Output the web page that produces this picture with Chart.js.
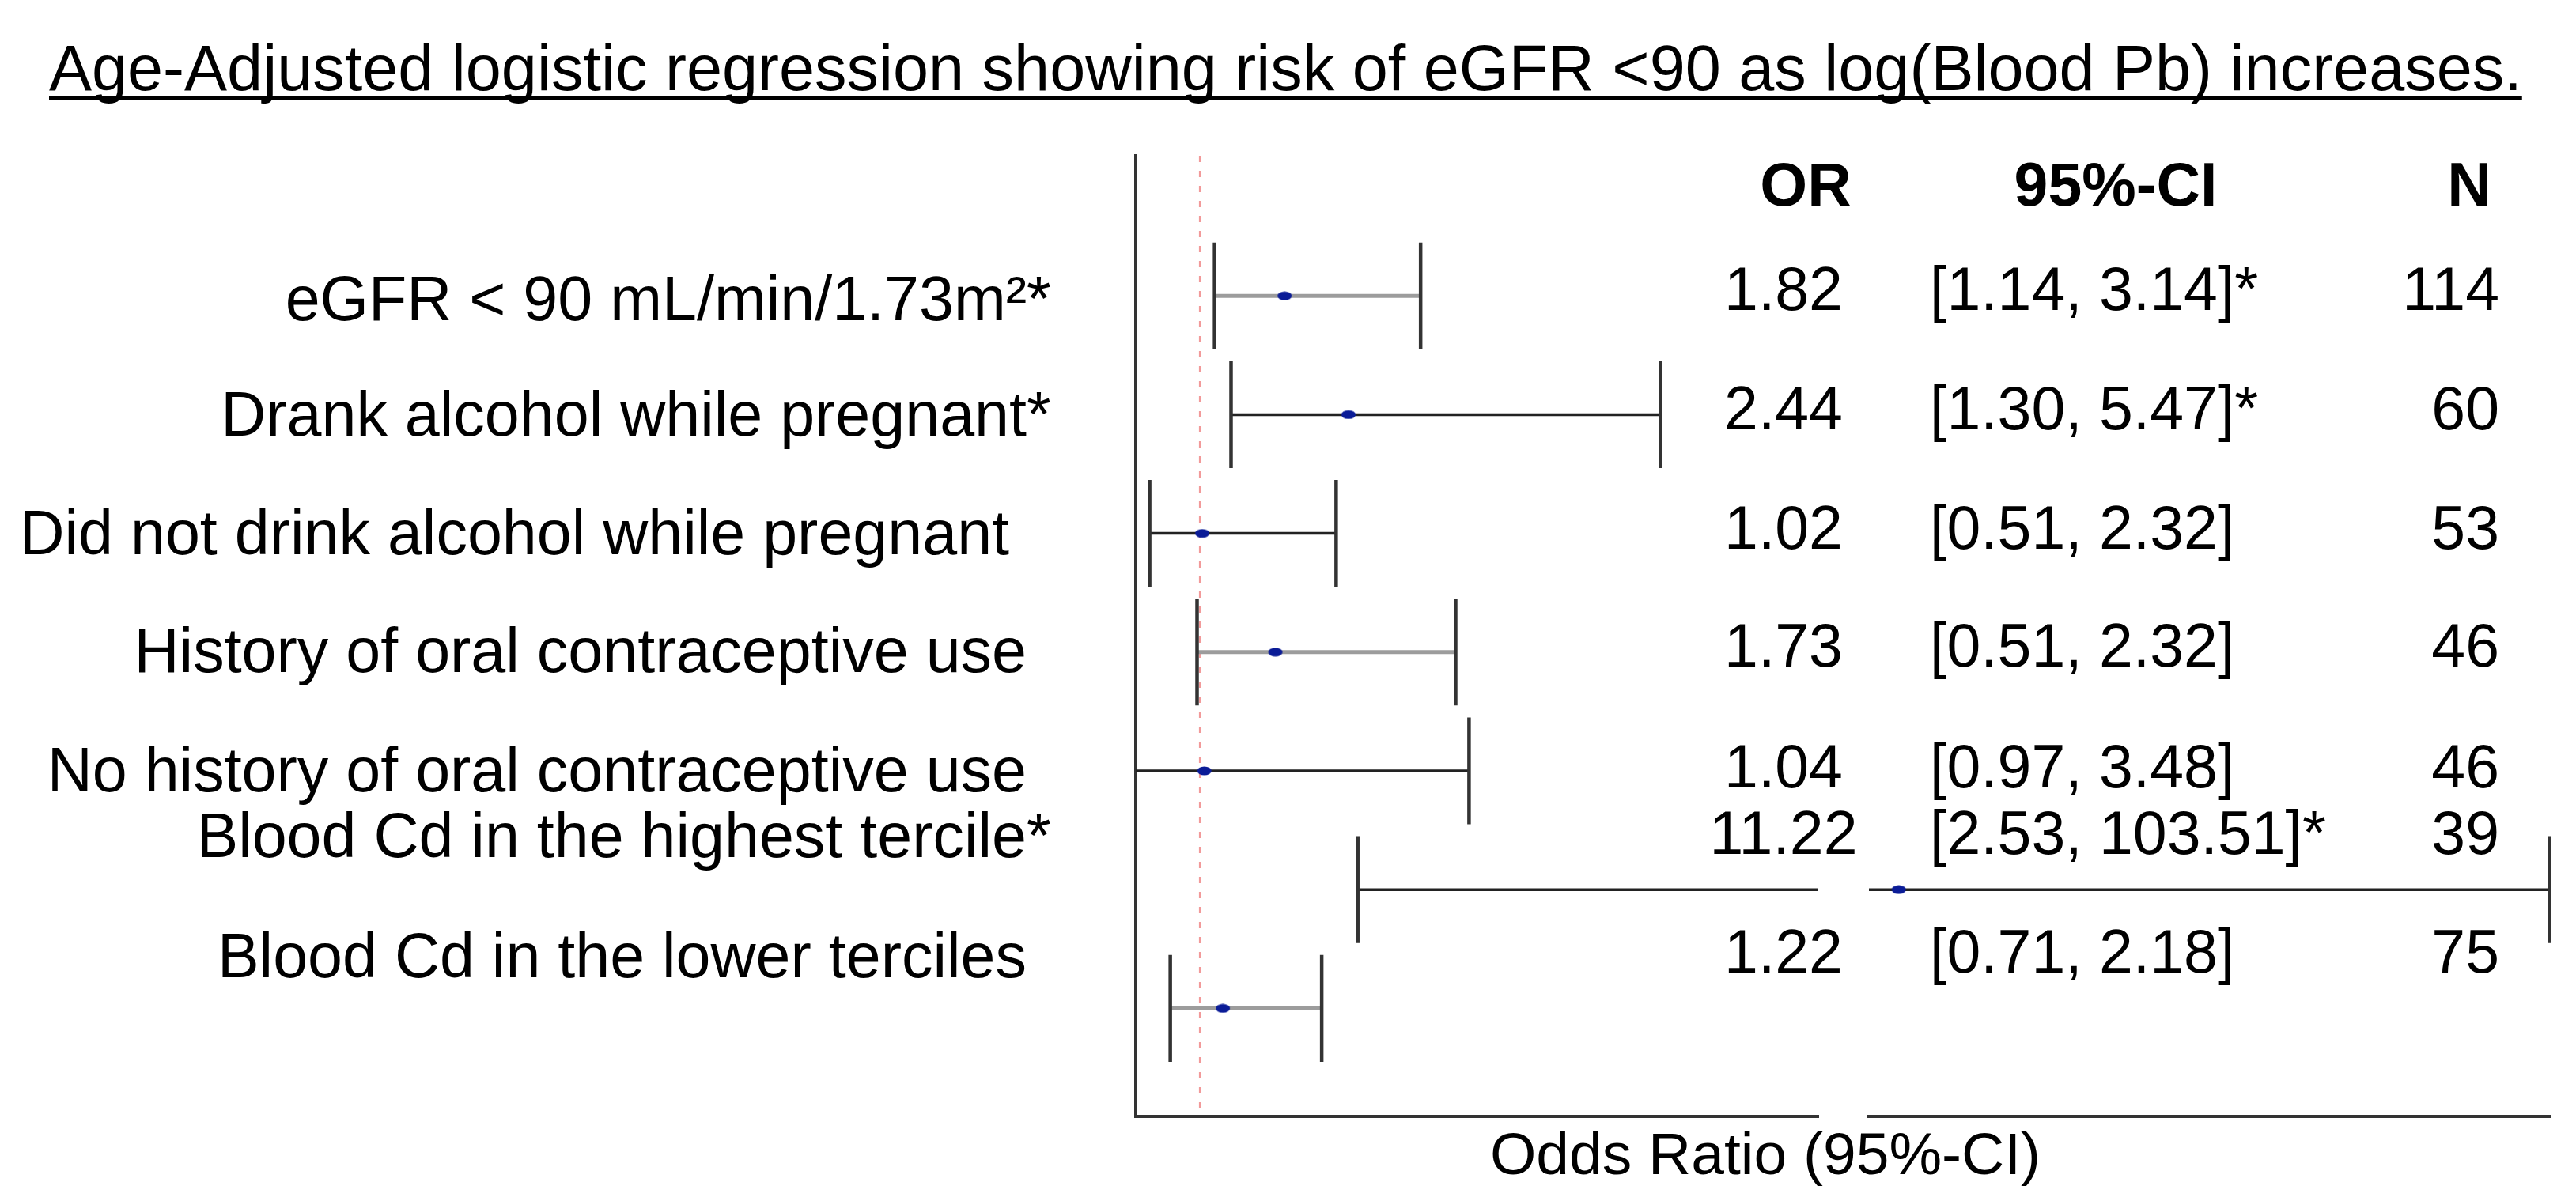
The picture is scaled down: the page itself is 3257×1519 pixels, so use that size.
<!DOCTYPE html>
<html>
<head>
<meta charset="utf-8">
<script src="https://cdn.jsdelivr.net/npm/chart.js@4.4.1/dist/chart.umd.min.js"></script>
<style>
  html, body { margin: 0; padding: 0; background: #fff; }
  canvas { display: block; }
</style>
</head>
<body>
<canvas id="forest" width="3257" height="1519"></canvas>
<script>
// rows, top to bottom
const rowLabels = [
  "eGFR < 90 mL/min/1.73m²*",
  "Drank alcohol while pregnant*",
  "Did not drink alcohol while pregnant ",
  "History of oral contraceptive use",
  "No history of oral contraceptive use",
  "Blood Cd in the highest tercile*",
  "Blood Cd in the lower terciles"
];
// printed table columns (as they stand in the figure)
const orText = ["1.82", "2.44", "1.02", "1.73", "1.04", "11.22", "1.22"];
const ciText = ["[1.14, 3.14]*", "[1.30, 5.47]*", "[0.51, 2.32]", "[0.51, 2.32]", "[0.97, 3.48]", "[2.53, 103.51]*", "[0.71, 2.18]"];
const nText = ["114", "60", "53", "46", "46", "39", "75"];
const headers = ["OR", "95%-CI", "N"];
// plotted marks
const orValues = [1.82, 2.44, 1.02, 1.73, 1.04, 11.22, 1.22];
const ciLow = [1.14, 1.30, 0.51, 0.97, 0.30, 2.53, 0.71];
const ciHigh = [3.14, 5.47, 2.32, 3.48, 3.61, 103.51, 2.18];
const refOR = 1;

const chartTitle = "Age-Adjusted logistic regression showing risk of eGFR <90 as log(Blood Pb) increases.";
const xTitle = "Odds Ratio (95%-CI)";

// layout / style
const BREAK = 7;            // x axis is broken here
const Y_MIN = -0.18, Y_MAX = 7.91;
const CAP = 0.45;
const greyRow = [true, false, false, true, false, false, true];
const labelRows = [1.06, 2.03, 3.03, 4.02, 5.03, 5.58, 6.59];
const valueRows = [0.98, 1.98, 2.99, 3.98, 5.0, 5.56, 6.56];
const headerRow = 0.1;
const FONT = '"Liberation Sans", Arial, sans-serif';

Chart.defaults.font.family = FONT;

// small ellipse used as the point marker
const dot = document.createElement("canvas");
dot.width = 20; dot.height = 12;
const dctx = dot.getContext("2d");
dctx.fillStyle = "#0b1c97";
dctx.beginPath();
dctx.ellipse(10, 6, 9, 5.5, 0, 0, Math.PI * 2);
dctx.fill();

function axisFor(v) {
  return v <= BREAK ? "x1" : "x2";
}

function lineSet(points, axis, color, width, order) {
  return {
    data: points, xAxisID: axis, yAxisID: "y",
    showLine: true, borderColor: color, borderWidth: width,
    pointRadius: 0, pointHoverRadius: 0, order: order
  };
}

const datasets = [];
// dashed line at OR = 1
datasets.push(Object.assign(
  lineSet([{x: refOR, y: Y_MIN}, {x: refOR, y: Y_MAX}], "x1", "#f29a9a", 3, 4),
  {borderDash: [8, 11]}
));

orValues.forEach((or, i) => {
  const y = i + 1;
  const lo = ciLow[i], hi = ciHigh[i];
  const wColor = greyRow[i] ? "#9c9c9c" : "#222";
  const wWidth = greyRow[i] ? 5 : 3.5;
  // whisker, split in two when it crosses the break
  if (hi > BREAK && lo < BREAK) {
    datasets.push(lineSet([{x: lo, y: y}, {x: BREAK, y: y}], "x1", wColor, wWidth, 2));
    datasets.push(lineSet([{x: BREAK, y: y}, {x: hi, y: y}], "x2", wColor, wWidth, 2));
  } else {
    datasets.push(lineSet([{x: lo, y: y}, {x: hi, y: y}], axisFor(hi), wColor, wWidth, 2));
  }
  // caps
  datasets.push(lineSet([{x: lo, y: y - CAP}, {x: lo, y: y + CAP}], axisFor(lo), "#333", 4.5, 1));
  datasets.push(lineSet([{x: hi, y: y - CAP}, {x: hi, y: y + CAP}], axisFor(hi), "#333", 4.5, 1));
  // point estimate
  datasets.push({
    data: [{x: or, y: y}], xAxisID: axisFor(or), yAxisID: "y",
    pointStyle: dot, pointRadius: 6, pointHoverRadius: 6, order: 0
  });
});

function xScale(weight, min, max, border) {
  return {
    type: "linear", position: "bottom", stack: "or", stackWeight: weight,
    min: min, max: max,
    grid: {display: false, drawTicks: false},
    ticks: {display: false},
    border: {display: border, color: "#333", width: 4},
    afterFit: s => { s.height = 0; }
  };
}

const tableText = {
  id: "tableText",
  afterDraw(chart) {
    const ctx = chart.ctx;
    const ys = chart.scales.y;
    ctx.save();
    ctx.fillStyle = "#000";

    // underlined title
    ctx.font = "81px " + FONT;
    ctx.textAlign = "left";
    ctx.textBaseline = "alphabetic";
    ctx.fillText(chartTitle, 62, 114);
    const tw = ctx.measureText(chartTitle).width;
    ctx.fillRect(62, 121, tw, 6);

    // row labels, right aligned, with a hanging asterisk
    ctx.font = "79px " + FONT;
    ctx.textBaseline = "middle";
    rowLabels.forEach((t, i) => {
      const py = ys.getPixelForValue(labelRows[i]);
      const star = t.endsWith("*");
      ctx.textAlign = "right";
      ctx.fillText(star ? t.slice(0, -1) : t, 1298, py);
      if (star) {
        ctx.textAlign = "left";
        ctx.fillText("*", 1298, py);
      }
    });

    // column headers
    ctx.font = "bold 77px " + FONT;
    ctx.textAlign = "center";
    const hy = ys.getPixelForValue(headerRow);
    ctx.fillText(headers[0], 2283, hy);
    ctx.fillText(headers[1], 2675, hy);
    ctx.fillText(headers[2], 3122, hy);

    // columns
    ctx.font = "77px " + FONT;
    orText.forEach((t, i) => {
      const py = ys.getPixelForValue(valueRows[i]);
      ctx.textAlign = "center";
      ctx.fillText(t, 2255, py);
      ctx.textAlign = "left";
      ctx.fillText(ciText[i], 2440, py);
      ctx.textAlign = "right";
      ctx.fillText(nText[i], 3160, py);
    });

    // x axis title
    ctx.font = "75px " + FONT;
    ctx.textAlign = "center";
    ctx.textBaseline = "alphabetic";
    ctx.fillText(xTitle, 2232, 1485);
    ctx.restore();
  }
};

new Chart(document.getElementById("forest"), {
  type: "scatter",
  data: {datasets: datasets},
  options: {
    responsive: false,
    devicePixelRatio: 1,
    animation: false,
    events: [],
    layout: {padding: {left: 0, right: 32, top: 197, bottom: 107}},
    plugins: {legend: {display: false}, tooltip: {enabled: false}, title: {display: false}},
    scales: {
      x1: xScale(863, 0.375, BREAK, true),
      xgap: xScale(64, 0, 1, false),
      x2: xScale(862, BREAK, 103.6, true),
      y: {
        type: "linear", position: "left", reverse: true,
        min: Y_MIN, max: Y_MAX,
        grid: {display: false, drawTicks: false},
        border: {display: true, color: "#333", width: 4},
        ticks: {display: false},
        afterFit: s => {
          s.width = 1436;
          s.paddingTop = 0;
          s.paddingBottom = 0;
        }
      }
    }
  },
  plugins: [tableText]
});
</script>
</body>
</html>
